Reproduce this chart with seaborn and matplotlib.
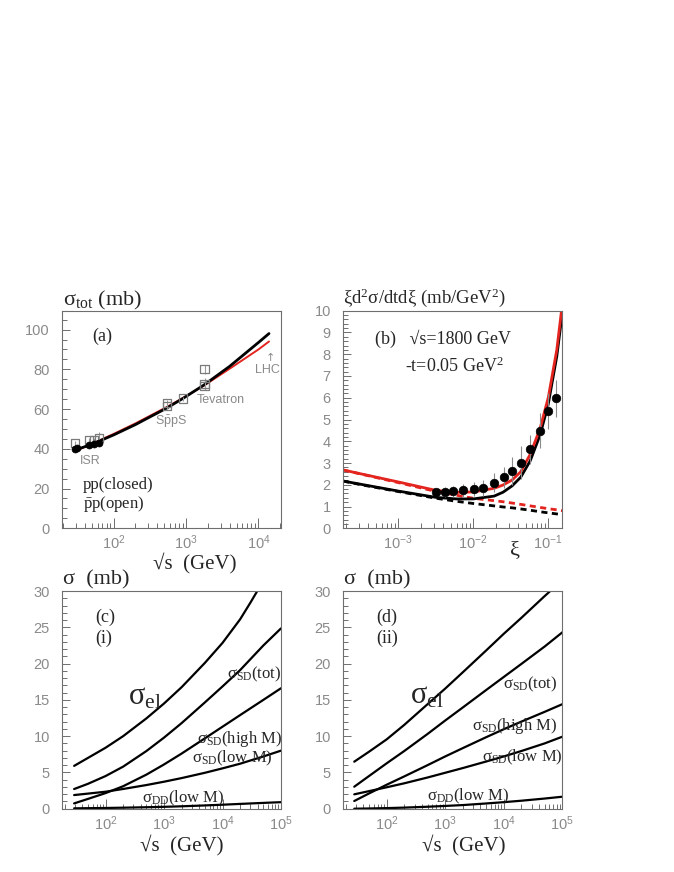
import math
import matplotlib
matplotlib.use("Agg")
import matplotlib.pyplot as plt
from matplotlib.ticker import LogLocator, MultipleLocator, NullFormatter, FuncFormatter
import seaborn as sns

# ---- panel (a): total cross section vs sqrt(s)
sqrt_s_a = [30, 50, 100, 200, 540, 900, 1800, 4000, 10000, 14000]
sigtot_black = [39.5, 42.3, 47.0, 52.2, 60.5, 65.3, 72.3, 81.5, 93.5, 98.0]
sigtot_red = [39.0, 42.5, 47.5, 52.8, 61.0, 65.5, 72.0, 80.3, 90.0, 94.0]

pp_x = [29.5, 31, 45, 53, 62]
pp_y = [40.0, 40.5, 41.8, 42.4, 43.0]
pp_err = [0.6, 0.6, 0.6, 0.6, 0.7]

ppbar_x = [29.5, 46, 53, 62, 546, 546, 900, 1800, 1800, 1800]
ppbar_y = [42.8, 44.5, 44.6, 45.3, 61.5, 63.0, 65.3, 80.0, 72.8, 71.4]
ppbar_err = [1.0, 1.0, 1.0, 3.0, 1.5, 1.5, 1.0, 2.4, 3.0, 2.0]

# ---- panel (b): single diffraction at sqrt(s)=1800 GeV
xi_curve = [1.85e-4, 3.2e-4, 1e-3, 3.2e-3, 6e-3, 1e-2, 1.9e-2, 2.5e-2, 3.3e-2,
            4.3e-2, 5.75e-2, 7.8e-2, 0.1, 0.13, 0.154]
sd_red = [2.68, 2.50, 2.13, 1.74, 1.65, 1.67, 1.84, 1.99, 2.22, 2.60, 3.40, 4.60, 6.00, 8.20, 10.3]
sd_black = [2.17, 2.02, 1.71, 1.42, 1.35, 1.35, 1.48, 1.66, 1.95, 2.35, 3.10, 4.30, 5.70, 7.90, 9.9]
sd_red_dash = [2.68, 2.49, 2.10, 1.69, 1.52, 1.38, 1.27, 1.22, 1.16, 1.10, 1.03, 0.96, 0.90, 0.85, 0.81]
sd_black_dash = [2.17, 2.00, 1.69, 1.38, 1.24, 1.14, 1.03, 0.98, 0.94, 0.89, 0.83, 0.76, 0.71, 0.66, 0.62]

cdf_xi = [3.2e-3, 4.2e-3, 5.4e-3, 7.2e-3, 1.02e-2, 1.36e-2, 1.9e-2, 2.54e-2, 3.28e-2,
          4.33e-2, 5.75e-2, 7.8e-2, 0.1, 0.126]
cdf_val = [1.65, 1.67, 1.70, 1.75, 1.82, 1.85, 2.10, 2.34, 2.65, 3.02, 3.63, 4.49, 5.39, 5.97]
cdf_err = [0.14, 0.25, 0.25, 0.30, 0.32, 0.37, 0.43, 0.50, 0.64, 0.74, 0.66, 0.80, 0.81, 0.84]

# ---- panel (c): partial cross sections, model (i)
sqrt_s_c = [29, 50, 100, 200, 500, 1000, 2000, 5000, 1e4, 2e4, 5e4, 1e5]
el_c_x = [29, 50, 100, 200, 500, 1000, 2000, 5000, 1e4, 2e4, 3e4, 4e4]
el_c = [5.9, 7.0, 8.4, 10.0, 12.45, 14.5, 16.75, 20.1, 22.85, 26.1, 28.4, 30.1]
sdtot_c = [2.71, 3.43, 4.5, 5.8, 7.95, 9.8, 11.8, 14.65, 16.85, 19.1, 22.5, 24.85]
sdhigh_c = [0.73, 1.35, 2.15, 3.1, 4.7, 6.1, 7.6, 9.7, 11.3, 12.9, 15.0, 16.6]
sdlow_c = [1.88, 2.08, 2.34, 2.72, 3.26, 3.72, 4.22, 4.95, 5.56, 6.2, 7.2, 8.0]
dd_c = [0.05, 0.07, 0.10, 0.14, 0.20, 0.26, 0.33, 0.45, 0.55, 0.66, 0.80, 0.90]

# ---- panel (d): partial cross sections, model (ii)
sqrt_s_d = [28, 50, 100, 200, 500, 1000, 2000, 5000, 1e4, 2e4, 5e4, 1e5]
el_d = [6.48, 7.85, 9.55, 11.55, 14.4, 16.55, 18.8, 21.8, 24.1, 26.3, 29.3, 31.5]
sdtot_d = [3.03, 4.5, 6.25, 7.95, 10.3, 12.15, 13.95, 16.35, 18.15, 19.95, 22.35, 24.3]
sdhigh_d = [1.06, 2.1, 3.3, 4.45, 6.0, 7.2, 8.35, 9.85, 10.95, 12.0, 13.35, 14.4]
sdlow_d = [1.98, 2.42, 2.95, 3.5, 4.3, 4.95, 5.6, 6.5, 7.2, 7.95, 9.0, 9.92]
dd_d = [0.0, 0.03, 0.08, 0.15, 0.27, 0.38, 0.50, 0.72, 0.90, 1.10, 1.40, 1.65]

sns.set_theme(style="ticks")
plt.rcParams["font.family"] = ["Liberation Serif", "DejaVu Serif"]
plt.rcParams["mathtext.fontset"] = "custom"
plt.rcParams["mathtext.rm"] = "Liberation Serif"
plt.rcParams["mathtext.it"] = "Liberation Serif:italic"
plt.rcParams["mathtext.bf"] = "Liberation Serif:bold"
plt.rcParams["mathtext.sf"] = "Liberation Sans"

W, H = 674, 872
RED = "#e3241f"
GREY = "#8a8a8a"
fig = plt.figure(figsize=(W / 100, H / 100), dpi=100)
fig.patch.set_facecolor("white")


def box(left, top, right, bottom):
    return fig.add_axes([left / W, 1 - bottom / H, (right - left) / W, (bottom - top) / H])


def ftext(px, py, s, size, **kw):
    kw.setdefault("ha", "left")
    kw.setdefault("va", "center")
    fig.text(px / W, 1 - py / H, s, fontsize=size, **kw)


def log_label(v, pos):
    return r"$\mathsf{10^{%d}}$" % int(round(math.log10(v)))


def style(ax):
    for sp in ax.spines.values():
        sp.set_color("#6e6e6e")
        sp.set_linewidth(0.8)
    ax.tick_params(which="both", direction="in", color="#6e6e6e", width=0.7,
                   top=False, right=False, labelcolor=GREY, labelsize=10.5)
    ax.tick_params(axis="y", which="major", length=6, pad=9)
    ax.tick_params(axis="y", which="minor", length=3.5)
    ax.tick_params(axis="x", which="major", length=7, pad=4)
    ax.tick_params(axis="x", which="minor", length=3.5)
    for lab in ax.get_yticklabels():
        lab.set_fontfamily("Liberation Sans")
    ax.xaxis.set_major_locator(LogLocator(base=10, numticks=10))
    ax.xaxis.set_minor_locator(LogLocator(base=10, subs=range(2, 10), numticks=20))
    ax.xaxis.set_major_formatter(FuncFormatter(log_label))
    ax.xaxis.set_minor_formatter(NullFormatter())
    ax.set_xlabel("")
    ax.set_ylabel("")


def curve(ax, xs, ys, color="black", lw=1.6, **kw):
    sns.lineplot(x=xs, y=ys, ax=ax, color=color, lw=lw, sort=False, estimator=None, **kw)


# ---------------- (a)
ax_a = box(62.3, 310.7, 281, 528.3)
ax_a.set_xscale("log")
curve(ax_a, sqrt_s_a, sigtot_red, color=RED, lw=1.4)
curve(ax_a, sqrt_s_a, sigtot_black, lw=2.0)
ax_a.errorbar(ppbar_x, ppbar_y, yerr=ppbar_err, fmt="none", ecolor="#9a9a9a", elinewidth=0.8)
sns.scatterplot(x=ppbar_x, y=ppbar_y, ax=ax_a, marker="s", s=34, facecolor="none",
                edgecolor="#7a7a7a", linewidth=0.9, zorder=3)
ax_a.errorbar(pp_x, pp_y, yerr=pp_err, fmt="none", ecolor="#9a9a9a", elinewidth=0.8)
sns.scatterplot(x=pp_x, y=pp_y, ax=ax_a, marker="o", s=26, color="black", edgecolor="black", zorder=4)
ax_a.set_xlim(19.5, 2.05e4)
ax_a.set_ylim(0, 109.5)
ax_a.yaxis.set_major_locator(MultipleLocator(20))
ax_a.yaxis.set_minor_locator(MultipleLocator(5))
style(ax_a)

ftext(63, 300, r"σ$_{\rm tot}$ (mb)", 16)
ftext(92, 336, "(a)", 13)
ftext(83, 485, "pp(closed)", 12)
ftext(83, 504, r"$\bar{\rm p}$p(open)", 12)
ftext(90, 461, "ISR", 9, color=GREY, family="Liberation Sans", ha="center")
ftext(171, 422, r"$\mathsf{S\bar{p}pS}$", 9, color=GREY, ha="center")
ftext(221, 400, "Tevatron", 9, color=GREY, family="Liberation Sans", ha="center")
ftext(267, 370, "LHC", 9, color=GREY, family="Liberation Sans", ha="center")
ftext(270, 358, "↑", 8, color=GREY, family="DejaVu Sans", ha="center")
ftext(195, 563, "√s  (GeV)", 15, ha="center")

# ---------------- (b)
ax_b = box(343.3, 310.7, 562.3, 528.3)
ax_b.set_xscale("log")
dash = (0, (2.2, 1.6))
curve(ax_b, xi_curve, sd_black_dash, lw=2.0, linestyle=dash)
curve(ax_b, xi_curve, sd_red_dash, color=RED, lw=2.0, linestyle=dash)
curve(ax_b, xi_curve, sd_black, lw=2.0)
curve(ax_b, xi_curve, sd_red, color=RED, lw=2.0)
ax_b.errorbar(cdf_xi, cdf_val, yerr=cdf_err, fmt="none", ecolor="#8a8a8a", elinewidth=0.8)
sns.scatterplot(x=cdf_xi, y=cdf_val, ax=ax_b, marker="o", s=38, color="black", edgecolor="black", zorder=4)
ax_b.set_xlim(1.85e-4, 0.154)
ax_b.set_ylim(0, 10)
ax_b.yaxis.set_major_locator(MultipleLocator(1))
ax_b.yaxis.set_minor_locator(MultipleLocator(0.2))
style(ax_b)

ftext(343, 298, r"ξd$^2$σ/dtdξ (mb/GeV$^2$)", 13.5)
ftext(375, 339, "(b)   √s=1800 GeV", 13)
ftext(405, 366, r"-t=0.05 GeV$^2$", 13)
ftext(515, 551, "ξ", 16, ha="center")

# ---------------- (c) and (d)
labels = [r"σ$_{\rm el}$", r"σ$_{\rm SD}$(tot)", r"σ$_{\rm SD}$(high M)",
          r"σ$_{\rm SD}$(low M)", r"σ$_{\rm DD}$(low M)"]
panels = [
    (62.3, 281, "(c)", "(i)",
     [(el_c_x, el_c), (sqrt_s_c, sdtot_c), (sqrt_s_c, sdhigh_c), (sqrt_s_c, sdlow_c), (sqrt_s_c, dd_c)],
     [(128, 697), (227, 674), (197, 739), (192, 758), (142, 798)], 182),
    (343.3, 562.3, "(d)", "(ii)",
     [(sqrt_s_d, el_d), (sqrt_s_d, sdtot_d), (sqrt_s_d, sdhigh_d), (sqrt_s_d, sdlow_d), (sqrt_s_d, dd_d)],
     [(410, 696), (503, 684), (472, 726), (482, 757), (427, 796)], 464),
]

for left, right, tag, model, curves, lpos, xlab_c in panels:
    ax = box(left, 591, right, 808.7)
    ax.set_xscale("log")
    for xs, ys in curves:
        curve(ax, xs, ys, lw=1.6)
    ax.set_xlim(18.2, 1e5)
    ax.set_ylim(0, 30)
    ax.yaxis.set_major_locator(MultipleLocator(5))
    ax.yaxis.set_minor_locator(MultipleLocator(1))
    style(ax)
    ftext(left + 1, 580, "σ  (mb)", 16)
    ftext(left + 33, 617, tag, 13)
    ftext(left + 33, 638, model, 13)
    for (px, py), lab in zip(lpos, labels):
        ftext(px, py, lab, 22 if lab == labels[0] else 12)
    ftext(xlab_c, 845, "√s  (GeV)", 15, ha="center")

fig.savefig("out.png", dpi=100, facecolor="white")
